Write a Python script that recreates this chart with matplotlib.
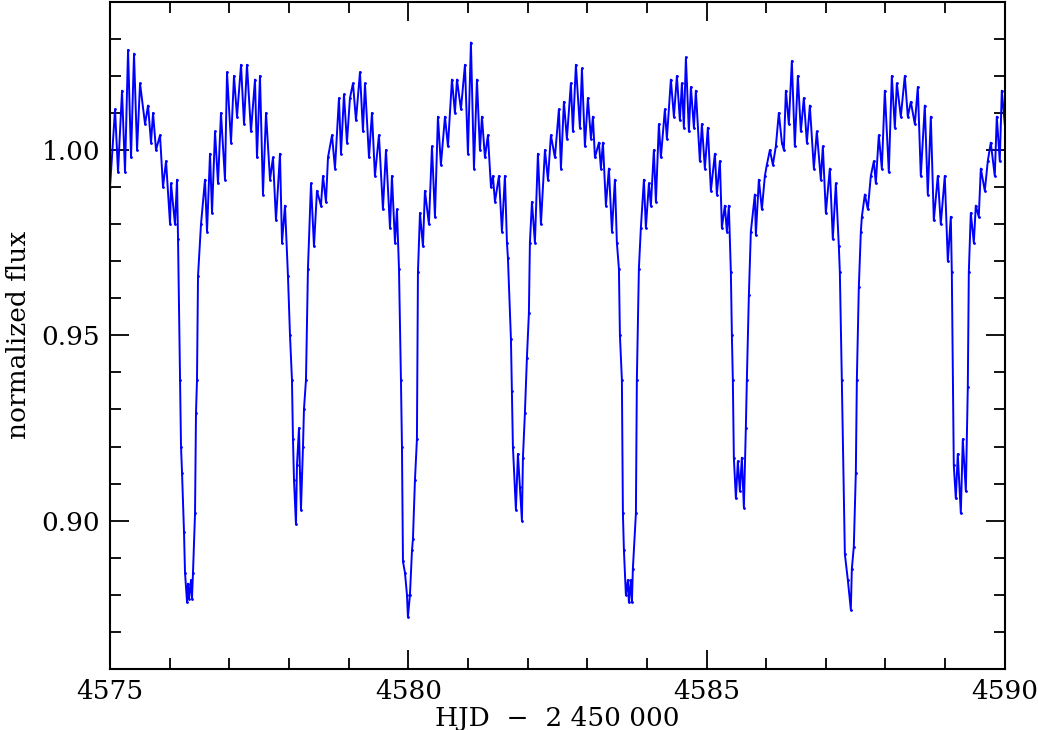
import matplotlib
matplotlib.use("Agg")
import matplotlib.pyplot as plt
from matplotlib.ticker import MultipleLocator

# light curve (peaks/troughs of the scatter band)
hjd = [
    4575.000, 4575.084, 4575.134, 4575.201, 4575.251, 4575.302, 4575.352, 4575.402,
    4575.453, 4575.503, 4575.587, 4575.637, 4575.687, 4575.721, 4575.771, 4575.838,
    4575.888, 4575.939, 4576.006, 4576.022, 4576.089, 4576.123, 4576.140, 4576.173,
    4576.190, 4576.207, 4576.240, 4576.257, 4576.291, 4576.307, 4576.324, 4576.358,
    4576.374, 4576.391, 4576.425, 4576.441, 4576.458, 4576.475, 4576.525, 4576.592,
    4576.626, 4576.676, 4576.710, 4576.760, 4576.810, 4576.860, 4576.927, 4576.961,
    4577.028, 4577.078, 4577.129, 4577.196, 4577.246, 4577.296, 4577.363, 4577.430,
    4577.464, 4577.514, 4577.564, 4577.615, 4577.682, 4577.732, 4577.782, 4577.849,
    4577.883, 4577.933, 4577.983, 4578.017, 4578.050, 4578.067, 4578.084, 4578.117,
    4578.134, 4578.168, 4578.184, 4578.201, 4578.235, 4578.251, 4578.285, 4578.318,
    4578.369, 4578.419, 4578.469, 4578.536, 4578.570, 4578.620, 4578.654, 4578.721,
    4578.771, 4578.838, 4578.872, 4578.922, 4578.972, 4579.022, 4579.073, 4579.123,
    4579.190, 4579.240, 4579.274, 4579.341, 4579.391, 4579.441, 4579.508, 4579.575,
    4579.626, 4579.693, 4579.726, 4579.777, 4579.810, 4579.844, 4579.877, 4579.894,
    4579.911, 4579.944, 4579.978, 4579.994, 4580.028, 4580.062, 4580.078, 4580.112,
    4580.145, 4580.162, 4580.196, 4580.246, 4580.279, 4580.346, 4580.397, 4580.447,
    4580.497, 4580.547, 4580.615, 4580.665, 4580.732, 4580.782, 4580.816, 4580.883,
    4580.950, 4581.000, 4581.050, 4581.101, 4581.151, 4581.201, 4581.235, 4581.285,
    4581.335, 4581.386, 4581.419, 4581.453, 4581.520, 4581.570, 4581.620, 4581.654,
    4581.670, 4581.721, 4581.737, 4581.754, 4581.788, 4581.804, 4581.838, 4581.872,
    4581.905, 4581.922, 4581.955, 4581.989, 4582.022, 4582.039, 4582.073, 4582.123,
    4582.173, 4582.224, 4582.291, 4582.341, 4582.391, 4582.458, 4582.525, 4582.559,
    4582.609, 4582.659, 4582.726, 4582.760, 4582.810, 4582.877, 4582.911, 4582.961,
    4583.011, 4583.062, 4583.095, 4583.129, 4583.196, 4583.229, 4583.263, 4583.313,
    4583.363, 4583.414, 4583.464, 4583.497, 4583.531, 4583.548, 4583.581, 4583.598,
    4583.615, 4583.648, 4583.682, 4583.698, 4583.732, 4583.749, 4583.765, 4583.816,
    4583.832, 4583.866, 4583.899, 4583.950, 4583.983, 4584.034, 4584.067, 4584.117,
    4584.151, 4584.201, 4584.235, 4584.302, 4584.335, 4584.402, 4584.453, 4584.503,
    4584.553, 4584.587, 4584.620, 4584.654, 4584.704, 4584.738, 4584.788, 4584.821,
    4584.888, 4584.922, 4584.972, 4585.022, 4585.073, 4585.140, 4585.173, 4585.224,
    4585.257, 4585.307, 4585.341, 4585.374, 4585.408, 4585.425, 4585.441, 4585.458,
    4585.492, 4585.525, 4585.559, 4585.592, 4585.626, 4585.659, 4585.676, 4585.710,
    4585.743, 4585.810, 4585.827, 4585.877, 4585.928, 4585.978, 4586.011, 4586.062,
    4586.112, 4586.162, 4586.212, 4586.263, 4586.296, 4586.330, 4586.380, 4586.430,
    4586.480, 4586.531, 4586.581, 4586.631, 4586.682, 4586.732, 4586.799, 4586.849,
    4586.916, 4586.950, 4587.000, 4587.067, 4587.117, 4587.168, 4587.218, 4587.235,
    4587.268, 4587.319, 4587.369, 4587.419, 4587.436, 4587.469, 4587.503, 4587.520,
    4587.553, 4587.587, 4587.604, 4587.654, 4587.704, 4587.754, 4587.805, 4587.838,
    4587.888, 4587.939, 4587.989, 4588.056, 4588.106, 4588.157, 4588.190, 4588.257,
    4588.324, 4588.374, 4588.425, 4588.492, 4588.542, 4588.592, 4588.659, 4588.709,
    4588.760, 4588.810, 4588.877, 4588.927, 4588.994, 4589.045, 4589.095, 4589.112,
    4589.145, 4589.179, 4589.212, 4589.263, 4589.296, 4589.347, 4589.380, 4589.397,
    4589.430, 4589.481, 4589.514, 4589.564, 4589.598, 4589.665, 4589.715, 4589.765,
    4589.832, 4589.866, 4589.916, 4589.950, 4590.000,
]
flux = [
    0.990, 1.011, 0.994, 1.016, 0.994, 1.027, 0.998, 1.026,
    1.000, 1.018, 1.007, 1.012, 1.002, 1.010, 1.000, 1.004,
    0.990, 0.997, 0.980, 0.991, 0.980, 0.992, 0.976, 0.938,
    0.920, 0.913, 0.897, 0.886, 0.878, 0.883, 0.879, 0.884,
    0.879, 0.886, 0.902, 0.929, 0.938, 0.966, 0.980, 0.992,
    0.978, 0.999, 0.983, 1.005, 0.991, 1.010, 0.992, 1.021,
    1.002, 1.020, 1.009, 1.023, 1.007, 1.023, 1.005, 1.019,
    0.998, 1.020, 0.988, 1.010, 0.992, 0.998, 0.981, 0.999,
    0.975, 0.985, 0.966, 0.950, 0.938, 0.922, 0.911, 0.899,
    0.915, 0.925, 0.913, 0.903, 0.920, 0.930, 0.938, 0.968,
    0.991, 0.974, 0.989, 0.985, 0.993, 0.986, 0.998, 1.004,
    0.995, 1.014, 0.999, 1.015, 1.002, 1.014, 1.018, 1.008,
    1.021, 1.005, 1.018, 0.998, 1.010, 0.993, 1.004, 0.984,
    1.000, 0.979, 0.993, 0.975, 0.984, 0.968, 0.938, 0.920,
    0.889, 0.886, 0.880, 0.874, 0.880, 0.892, 0.895, 0.911,
    0.922, 0.967, 0.983, 0.974, 0.989, 0.980, 1.001, 0.982,
    1.009, 0.996, 1.009, 1.001, 1.019, 1.010, 1.019, 1.011,
    1.023, 0.999, 1.029, 0.995, 1.019, 1.000, 1.009, 0.998,
    1.004, 0.990, 0.993, 0.986, 0.993, 0.978, 0.993, 0.975,
    0.971, 0.949, 0.935, 0.920, 0.908, 0.903, 0.918, 0.909,
    0.900, 0.917, 0.929, 0.944, 0.956, 0.975, 0.986, 0.975,
    0.999, 0.980, 1.000, 0.992, 1.004, 0.998, 1.011, 0.995,
    1.013, 1.003, 1.018, 1.005, 1.023, 1.006, 1.022, 1.001,
    1.014, 1.003, 1.009, 0.998, 1.002, 0.995, 1.002, 0.985,
    0.995, 0.978, 0.992, 0.975, 0.968, 0.950, 0.938, 0.902,
    0.892, 0.880, 0.884, 0.878, 0.884, 0.878, 0.887, 0.902,
    0.938, 0.968, 0.979, 0.992, 0.979, 0.991, 0.985, 1.000,
    0.986, 1.007, 0.998, 1.011, 1.003, 1.019, 1.009, 1.020,
    1.008, 1.018, 1.006, 1.025, 1.005, 1.017, 1.006, 1.016,
    0.997, 1.007, 0.995, 1.006, 0.989, 0.999, 0.988, 0.997,
    0.979, 0.985, 0.978, 0.985, 0.967, 0.950, 0.938, 0.917,
    0.906, 0.916, 0.908, 0.917, 0.9035, 0.925, 0.938, 0.961,
    0.978, 0.988, 0.977, 0.992, 0.984, 0.993, 0.996, 1.000,
    0.996, 1.001, 1.010, 1.002, 1.000, 1.016, 1.007, 1.024,
    1.001, 1.020, 1.005, 1.014, 1.002, 1.012, 0.995, 1.005,
    0.992, 1.001, 0.983, 0.995, 0.976, 0.991, 0.974, 0.967,
    0.938, 0.891, 0.884, 0.876, 0.887, 0.893, 0.913, 0.938,
    0.963, 0.978, 0.982, 0.988, 0.984, 0.993, 0.997, 0.991,
    1.004, 0.995, 1.016, 0.994, 1.020, 1.006, 1.018, 1.009,
    1.020, 1.009, 1.013, 1.007, 1.017, 0.993, 1.012, 0.988,
    1.009, 0.981, 0.993, 0.980, 0.993, 0.970, 0.982, 0.967,
    0.915, 0.906, 0.918, 0.902, 0.922, 0.908, 0.936, 0.967,
    0.983, 0.975, 0.985, 0.982, 0.995, 0.989, 0.997, 1.002,
    0.993, 1.009, 0.997, 1.016, 1.007,
]

plt.rcParams['font.family'] = ['DejaVu Serif']

fig = plt.figure(figsize=(10.38, 7.30), dpi=100)
ax = fig.add_axes([0.106, 0.0836, 0.862, 0.914])

ax.plot(hjd, flux, color="#0000ff", lw=1.4, marker=".", ms=2)

ax.set_xlim(4575, 4590)
ax.set_ylim(0.86, 1.04)
ax.xaxis.set_major_locator(MultipleLocator(5))
ax.xaxis.set_minor_locator(MultipleLocator(1))
ax.yaxis.set_major_locator(MultipleLocator(0.05))
ax.yaxis.set_minor_locator(MultipleLocator(0.01))
ax.yaxis.set_major_formatter(plt.FormatStrFormatter("%.2f"))
ax.tick_params(which="both", direction="in", top=True, right=True, width=1.3)
ax.tick_params(which="major", length=14, labelsize=19, pad=7)
ax.tick_params(which="minor", length=8)
for s in ax.spines.values():
    s.set_linewidth(1.5)

ax.set_xlabel("HJD  \u2212  2 450 000", fontsize=19, labelpad=2)
ax.set_ylabel("normalized flux", fontsize=19, labelpad=8)

fig.savefig("out.png", dpi=100)
